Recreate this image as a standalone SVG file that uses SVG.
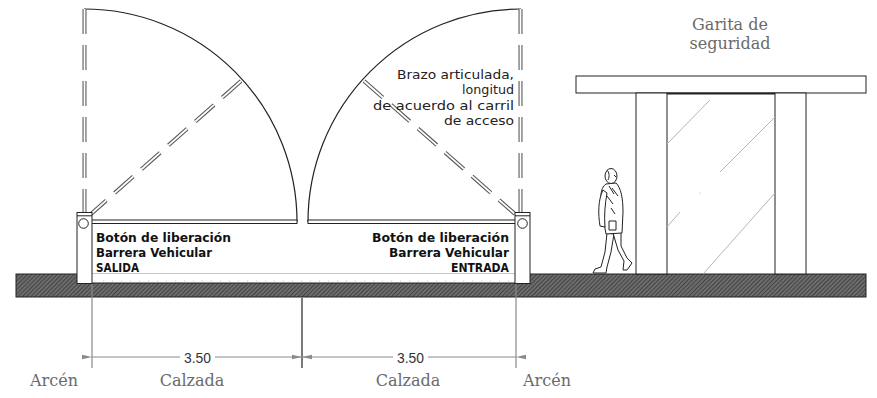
<svg xmlns="http://www.w3.org/2000/svg" width="877" height="398" viewBox="0 0 877 398">
  <defs>
    <pattern id="hatch" patternUnits="userSpaceOnUse" width="3" height="3" patternTransform="rotate(45)">
      <rect width="3" height="3" fill="#6c6c6c"/>
      <line x1="0" y1="0" x2="0" y2="3" stroke="#333" stroke-width="1.4"/>
    </pattern>
    <marker id="arr" viewBox="0 0 10 6" refX="0" refY="3" markerWidth="10" markerHeight="6" markerUnits="userSpaceOnUse" orient="auto-start-reverse">
      <path d="M0,3 L10,0.8 L10,5.2 Z" fill="#8a8a8a"/>
    </marker>
  </defs>
  <style>
    .dblo { fill: none; stroke: #5a5a5a; stroke-width: 4; stroke-dasharray: 25 11; }
    .dbli { fill: none; stroke: #ffffff; stroke-width: 1.8; stroke-dasharray: 25 11; }
    .arc { fill: none; stroke: #222; stroke-width: 1.2; }
    .ln { fill: #fff; stroke: #222; stroke-width: 1; }
    .note { font-family: "DejaVu Sans", sans-serif; font-size: 11.5px; fill: #222; }
    .btn { font-family: "DejaVu Sans", sans-serif; font-size: 11.5px; font-weight: bold; fill: #111; }
    .lbl { font-family: "DejaVu Serif", serif; font-size: 16px; fill: #6a6a6a; }
    .dim { font-family: "Liberation Sans", sans-serif; font-size: 14px; fill: #333; }
    .ext { stroke: #8a8a8a; stroke-width: 1.2; fill: none; }
    .dl { stroke: #8a8a8a; stroke-width: 1; fill: none; }
    .glass { stroke: #b5b5b5; stroke-width: 1; fill: none; }
  </style>

  <!-- ground strip with recessed roadway -->
  <g id="ground">
    <rect x="16" y="274" width="850" height="23" fill="url(#hatch)" stroke="#222" stroke-width="1"/>
    <rect x="77" y="273.5" width="453" height="9.5" fill="#fff"/>
    <path d="M77,283 H530" stroke="#222" stroke-width="1" fill="none"/>
    <path d="M94,281 H514" stroke="#c8c8c8" stroke-width="1" stroke-dasharray="1 8" fill="none"/>
  </g>

  <!-- exit barrier (left) -->
  <g id="barrera-salida">
    <path class="arc" d="M84,9 A213,213 0 0 1 297,222"/>
    <path class="dblo" d="M84.5,9 V212"/>
    <path class="dbli" d="M84.5,9 V212"/>
    <path class="dblo" d="M241,81 L91,214"/>
    <path class="dbli" d="M241,81 L91,214"/>
    <rect class="ln" x="88" y="220" width="209" height="3.5"/>
    <rect class="ln" x="77" y="212.5" width="15" height="71"/>
    <line x1="77" y1="215.8" x2="92" y2="215.8" stroke="#222" stroke-width="1"/>
    <circle class="ln" cx="83.5" cy="223.5" r="4.8"/>
    <text class="btn" x="96" y="242" textLength="135" lengthAdjust="spacingAndGlyphs">Botón de liberación</text>
    <text class="btn" x="96" y="257" textLength="116" lengthAdjust="spacingAndGlyphs">Barrera Vehicular</text>
    <text class="btn" x="96" y="272" textLength="43" lengthAdjust="spacingAndGlyphs">SALIDA</text>
  </g>

  <!-- entry barrier (right) -->
  <g id="barrera-entrada">
    <path class="arc" d="M521,9 A213,213 0 0 0 308,222"/>
    <path class="dblo" d="M520.5,9 V212"/>
    <path class="dbli" d="M520.5,9 V212"/>
    <path class="dblo" d="M364,81 L515,214"/>
    <path class="dbli" d="M364,81 L515,214"/>
    <rect class="ln" x="308" y="220" width="212" height="3.5"/>
    <rect class="ln" x="515" y="212.5" width="15" height="71"/>
    <line x1="515" y1="215.8" x2="530" y2="215.8" stroke="#222" stroke-width="1"/>
    <circle class="ln" cx="522.5" cy="223.5" r="4.8"/>
    <text class="btn" x="509" y="242" text-anchor="end" textLength="137" lengthAdjust="spacingAndGlyphs">Botón de liberación</text>
    <text class="btn" x="509" y="257" text-anchor="end" textLength="120" lengthAdjust="spacingAndGlyphs">Barrera Vehicular</text>
    <text class="btn" x="509" y="272" text-anchor="end" textLength="58" lengthAdjust="spacingAndGlyphs">ENTRADA</text>
  </g>

  <!-- arm note -->
  <g id="nota-brazo">
    <text class="note" x="514" y="79" text-anchor="end" textLength="117" lengthAdjust="spacingAndGlyphs">Brazo articulada,</text>
    <text class="note" x="514" y="94" text-anchor="end" textLength="52" lengthAdjust="spacingAndGlyphs">longitud</text>
    <text class="note" x="514" y="110" text-anchor="end" textLength="141" lengthAdjust="spacingAndGlyphs">de acuerdo al carril</text>
    <text class="note" x="514" y="125" text-anchor="end" textLength="70" lengthAdjust="spacingAndGlyphs">de acceso</text>
  </g>

  <!-- guard booth -->
  <g id="garita">
    <text class="lbl" x="730" y="30" text-anchor="middle">Garita de</text>
    <text class="lbl" x="730" y="49" text-anchor="middle">seguridad</text>
    <rect class="ln" x="576" y="76" width="290" height="17"/>
    <rect class="ln" x="636" y="93" width="31" height="181"/>
    <rect class="ln" x="775" y="93" width="31" height="181"/>
    <line x1="667" y1="93.5" x2="775" y2="93.5" stroke="#222" stroke-width="2"/>
    <path class="glass" d="M667,144 L710,100 M720,172 L775,117 M667,227 L680,212 M703,274 L775,193"/>
    <circle cx="700" cy="193" r="0.6" fill="#aaa"/>
  </g>

  <!-- pedestrian -->
  <g id="peaton" fill="#fff" stroke="#222" stroke-width="1" stroke-linejoin="round">
    <path d="M607,233 L605,252 L601,267 L595,269 L593,273 L606,273 L607,267 L611,252 L614,234 Z"/>
    <path d="M613,233 L618,250 L624,261 L623,270 L627,270 L632,263 L627,258 L621,246 L621,232 Z"/>
    <path d="M606,184 L616,183 C621,188 623,198 623,212 L622,233 L606,234 C604,222 601,210 601,196 C601,190 603,186 606,184 Z"/>
    <path d="M603,190 C598,200 598,214 600,226 L605,227 C604,216 605,204 607,193 Z"/>
    <rect x="609" y="221" width="7" height="9"/>
    <ellipse cx="611" cy="176" rx="6" ry="7.5"/>
    <path d="M607,170 C609,172 610,176 608,180 M614,175 L616,177 M609,186 L614,194 M607,196 L613,204 M612,188 L618,196 M611,208 L615,214" fill="none"/>
  </g>

  <!-- dimensions -->
  <g id="cotas">
    <line class="ext" x1="92" y1="284" x2="92" y2="368"/>
    <line x1="302" y1="298" x2="302" y2="368" stroke="#333" stroke-width="1.3"/>
    <line class="ext" x1="516" y1="284" x2="516" y2="368"/>
    <path class="dl" d="M92,357 H180" marker-start="url(#arr)"/>
    <path class="dl" d="M215,357 H302" marker-end="url(#arr)"/>
    <path class="dl" d="M302,357 H393" marker-start="url(#arr)"/>
    <path class="dl" d="M428,357 H516" marker-end="url(#arr)"/>
    <text class="dim" x="197.5" y="363" text-anchor="middle" textLength="27" lengthAdjust="spacingAndGlyphs">3.50</text>
    <text class="dim" x="410.5" y="363" text-anchor="middle" textLength="27" lengthAdjust="spacingAndGlyphs">3.50</text>
  </g>

  <!-- lane labels -->
  <g id="etiquetas">
    <text class="lbl" x="54" y="386" text-anchor="middle">Arcén</text>
    <text class="lbl" x="192" y="386" text-anchor="middle">Calzada</text>
    <text class="lbl" x="408" y="386" text-anchor="middle">Calzada</text>
    <text class="lbl" x="547" y="386" text-anchor="middle">Arcén</text>
  </g>
</svg>
